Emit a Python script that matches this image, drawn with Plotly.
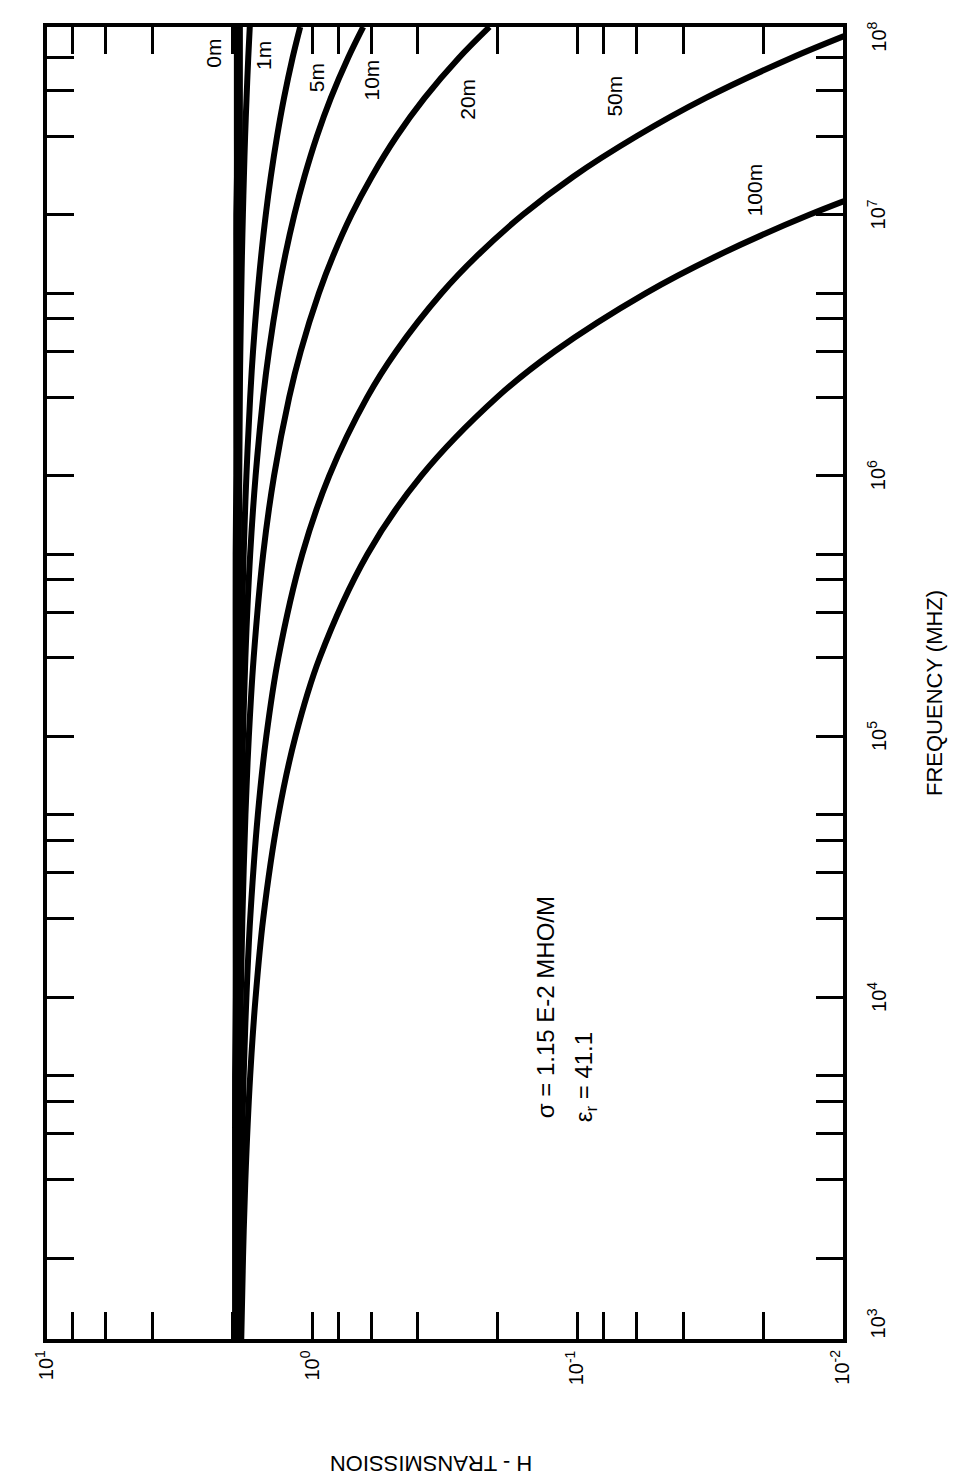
import math
import plotly.graph_objects as go

# ---------------- data ----------------
freq_mhz = [490, 1e3, 2e3, 5e3, 1e4, 2e4, 5e4, 1e5, 2e5, 5e5, 1e6, 2e6, 3e6,
            5e6, 7e6, 1e7, 1.4e7, 2e7, 2.8e7, 4e7, 5.25e7]

t_0m = [1.93, 1.93, 1.93, 1.93, 1.92, 1.92, 1.92, 1.92, 1.92, 1.92, 1.91,
        1.91, 1.91, 1.91, 1.91, 1.91, 1.90, 1.90, 1.90, 1.90, 1.90]
t_1m = [1.919, 1.919, 1.919, 1.918, 1.917, 1.916, 1.913, 1.910, 1.906, 1.898,
        1.890, 1.877, 1.868, 1.853, 1.842, 1.827, 1.811, 1.792, 1.770, 1.744, 1.721]
t_5m = [1.917, 1.915, 1.913, 1.909, 1.905, 1.898, 1.886, 1.872, 1.853, 1.815,
        1.772, 1.715, 1.673, 1.608, 1.558, 1.498, 1.434, 1.358, 1.279, 1.187, 1.111]
t_10m = [1.913, 1.910, 1.906, 1.898, 1.890, 1.877, 1.853, 1.825, 1.788, 1.715,
         1.636, 1.532, 1.457, 1.347, 1.265, 1.169, 1.071, 0.961, 0.852, 0.733, 0.643]
t_20m = [1.906, 1.901, 1.893, 1.877, 1.860, 1.835, 1.787, 1.735, 1.664, 1.532,
         1.394, 1.222, 1.106, 0.945, 0.833, 0.712, 0.597, 0.481, 0.378, 0.280, 0.215]
t_50m = [1.886, 1.872, 1.853, 1.815, 1.772, 1.715, 1.605, 1.491, 1.343, 1.091,
         0.863, 0.621, 0.483, 0.326, 0.238, 0.161, 0.104, 0.060, 0.033, 0.0156, 0.0081]
t_100m = [1.853, 1.825, 1.788, 1.715, 1.636, 1.532, 1.342, 1.158, 0.939, 0.620,
          0.388, 0.201, 0.122, 0.0555, 0.0295, 0.0134, 0.0056, None, None, None, None]

depth_labels = ["0m", "1m", "5m", "10m", "20m", "50m", "100m"]
series = [t_0m, t_1m, t_5m, t_10m, t_20m, t_50m, t_100m]
line_widths = [9, 6, 6, 6, 6, 6, 6]

# curve-label positions (transmission, frequency)
label_T = [2.35, 1.52, 0.969, 0.596, 0.259, 0.0723, 0.0215]
label_F = [4.18e7, 4.07e7, 3.37e7, 3.30e7, 2.76e7, 2.84e7, 1.25e7]

# axis ticks
t_ticks = [10, 8, 6, 4, 2, 1, 0.8, 0.6, 0.4, 0.2, 0.1, 0.08, 0.06, 0.04, 0.02, 0.01]
f_ticks = [1e3, 2e3, 3e3, 4e3, 5e3, 1e4, 2e4, 3e4, 4e4, 5e4, 1e5, 2e5, 3e5, 4e5, 5e5,
           1e6, 2e6, 3e6, 4e6, 5e6, 1e7, 2e7, 3e7, 4e7]
t_label_vals = [10, 1, 0.1, 0.01]
t_label_text = ["10<sup>1</sup>", "10<sup>0</sup>", "10<sup>-1</sup>", "10<sup>-2</sup>"]
f_label_vals = [5.6e2, 1e4, 1e5, 1e6, 1e7, 4.8e7]
f_label_text = ["10<sup>3</sup>", "10<sup>4</sup>", "10<sup>5</sup>", "10<sup>6</sup>",
                "10<sup>7</sup>", "10<sup>8</sup>"]

FONT = "Liberation Sans, Arial, sans-serif"

fig = go.Figure()
for name, ys, w in zip(depth_labels, series, line_widths):
    fig.add_trace(go.Scatter(x=ys, y=freq_mhz, mode="lines", name=name,
                             line=dict(color="black", width=w, shape="spline", smoothing=1.0),
                             connectgaps=False, showlegend=False, hoverinfo="skip"))

ann = []
for txt, tv, fv in zip(depth_labels, label_T, label_F):
    ann.append(dict(x=math.log10(tv), y=math.log10(fv), xref="x", yref="y", text=txt,
                    textangle=-90, showarrow=False, font=dict(size=21, color="black", family=FONT),
                    xanchor="center", yanchor="middle"))
for tv, txt in zip(t_label_vals, t_label_text):
    ann.append(dict(x=math.log10(tv), y=-0.007, xref="x", yref="paper", text=txt,
                    textangle=-90, showarrow=False, font=dict(size=20, color="black", family=FONT),
                    xanchor="center", yanchor="top", xshift=-3))
for fv, txt in zip(f_label_vals, f_label_text):
    ann.append(dict(x=1.024, y=math.log10(fv), xref="paper", yref="y", text=txt,
                    textangle=-90, showarrow=False, font=dict(size=20, color="black", family=FONT),
                    xanchor="left", yanchor="middle"))
ann.append(dict(x=1.115, y=0.492, xref="paper", yref="paper", text="FREQUENCY (MHZ)",
                textangle=-90, showarrow=False, font=dict(size=22, color="black", family=FONT),
                xanchor="center", yanchor="middle"))
ann.append(dict(x=0.482, y=-0.095, xref="paper", yref="paper", text="H - TRANSMISSION",
                textangle=180, showarrow=False, font=dict(size=22, color="black", family=FONT),
                xanchor="center", yanchor="middle"))
ann.append(dict(x=-0.88, y=3.528, xref="x", yref="y", text="σ = 1.15 E-2 MHO/M",
                textangle=-90, showarrow=False, font=dict(size=24, color="black", family=FONT),
                xanchor="center", yanchor="bottom"))
ann.append(dict(x=-1.03, y=3.512, xref="x", yref="y", text="ε<sub>r</sub> = 41.1",
                textangle=-90, showarrow=False, font=dict(size=24, color="black", family=FONT),
                xanchor="center", yanchor="bottom"))

axis_common = dict(type="log", showline=True, linewidth=4, linecolor="black",
                   mirror="ticks", ticks="inside", ticklen=27, tickwidth=3, tickcolor="black",
                   showticklabels=False, showgrid=False, zeroline=False)

fig.update_layout(
    width=956, height=1479,
    margin=dict(l=39, r=121, t=19, b=148),
    paper_bgcolor="white", plot_bgcolor="white",
    xaxis=dict(range=[1, -2], tickvals=t_ticks, **axis_common),
    yaxis=dict(range=[2.69, 7.72], tickvals=f_ticks, **axis_common),
    annotations=ann,
    showlegend=False,
)

fig.write_html("out.html")
